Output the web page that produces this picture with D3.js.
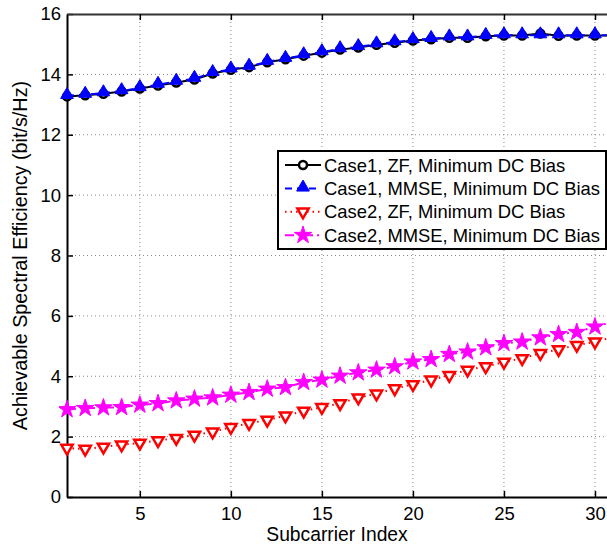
<!DOCTYPE html>
<html>
<head>
<meta charset="utf-8">
<script src="https://cdn.jsdelivr.net/npm/d3@7"></script>
<style>
  body { margin: 0; background: #fff; }
  svg text { font-family: "Liberation Sans", Arial, Helvetica, sans-serif; }
</style>
</head>
<body>
<div id="chart"></div>
<script>
// Subcarrier index (31 is past the cropped right edge, only the line enters)
const subcarriers = d3.range(1, 32)
const case1ZF = [13.27, 13.31, 13.36, 13.43, 13.53, 13.63, 13.73, 13.83, 14.03, 14.15,
    14.24, 14.40, 14.50, 14.62, 14.72, 14.82, 14.89, 14.98, 15.05, 15.12,
    15.16, 15.21, 15.21, 15.26, 15.29, 15.29, 15.35, 15.28, 15.29, 15.29, 15.29]
const case1MMSE = [13.29, 13.33, 13.38, 13.45, 13.55, 13.66, 13.76, 13.86, 14.05, 14.17,
    14.26, 14.42, 14.52, 14.64, 14.74, 14.84, 14.91, 15.00, 15.07, 15.14,
    15.18, 15.23, 15.23, 15.28, 15.30, 15.30, 15.30, 15.30, 15.30, 15.30, 15.30]
const case2ZF = [1.62, 1.59, 1.66, 1.73, 1.79, 1.87, 1.95, 2.05, 2.16, 2.31,
    2.44, 2.55, 2.69, 2.85, 2.97, 3.10, 3.29, 3.42, 3.59, 3.73,
    3.88, 4.03, 4.21, 4.32, 4.47, 4.59, 4.76, 4.89, 5.03, 5.14, 5.30]
const case2MMSE = [2.90, 2.94, 2.96, 2.97, 3.05, 3.10, 3.19, 3.25, 3.29, 3.38,
    3.47, 3.58, 3.63, 3.80, 3.88, 4.01, 4.12, 4.21, 4.32, 4.48,
    4.56, 4.73, 4.81, 4.95, 5.09, 5.14, 5.28, 5.39, 5.46, 5.64, 5.80]
const xTicks = [5, 10, 15, 20, 25, 30]
const yTicks = [0, 2, 4, 6, 8, 10, 12, 14, 16]
const legendLabels = ["Case1, ZF, Minimum DC Bias", "Case1, MMSE, Minimum DC Bias",
    "Case2, ZF, Minimum DC Bias", "Case2, MMSE, Minimum DC Bias"]

const width = 607, height = 546
var margin = { top: 14, right: 0, bottom: 49, left: 67 }
const graphWidth = width - margin.left - margin.right
const graphHeight = height - margin.top - margin.bottom

var x = d3.scaleLinear().domain([1, 30.66]).range([0, graphWidth])
var y = d3.scaleLinear().domain([0, 16]).range([graphHeight, 0])

const svg = d3.select("#chart").append("svg")
    .attr("width", width)
    .attr("height", height)
const g = svg.append("g")
    .attr("transform", "translate(" + margin.left + "," + margin.top + ")")

g.append("defs").append("clipPath").attr("id", "clip")
    .append("rect").attr("x", -8).attr("y", -8)
    .attr("width", graphWidth + 8).attr("height", graphHeight + 16)

// Grid
g.append("g").selectAll("line").data(xTicks).join("line")
    .attr("x1", d => x(d)).attr("x2", d => x(d))
    .attr("y1", 0).attr("y2", graphHeight)
    .attr("stroke", "#888").attr("stroke-width", 1).attr("stroke-dasharray", "1,3")
g.append("g").selectAll("line").data(yTicks.filter(d => d > 0 && d < 16)).join("line")
    .attr("x1", 0).attr("x2", graphWidth)
    .attr("y1", d => y(d)).attr("y2", d => y(d))
    .attr("stroke", "#888").attr("stroke-width", 1).attr("stroke-dasharray", "1,3")

// Axes (ticks point inwards)
const xAxis = d3.axisBottom(x).tickValues(xTicks).tickSizeInner(-6).tickSizeOuter(0).tickPadding(10)
const yAxis = d3.axisLeft(y).tickValues(yTicks).tickSizeInner(-6).tickSizeOuter(0).tickPadding(6)
const xTop = d3.axisTop(x).tickValues(xTicks).tickSizeInner(-6).tickSizeOuter(0).tickFormat("")

const gx = g.append("g").attr("transform", "translate(0," + graphHeight + ")").call(xAxis)
const gy = g.append("g").call(yAxis)
const gt = g.append("g").call(xTop)
for (const a of [gx, gy, gt]) {
    a.select(".domain").attr("stroke", "#000").attr("stroke-width", 2)
    a.selectAll(".tick line").attr("stroke", "#000").attr("stroke-width", 1.5)
    a.selectAll("text").attr("font-size", 18.5).attr("fill", "#000")
        .attr("font-family", "'Liberation Sans', Arial, sans-serif")
}
gt.select(".domain").attr("stroke", "#333")

// Series
const series = [
    { values: case1ZF, color: "#000", dash: null, sym: "circle" },
    { values: case1MMSE, color: "#0000ff", dash: "7,5", sym: "up" },
    { values: case2ZF, color: "#ff0000", dash: "1.5,4", sym: "down" },
    { values: case2MMSE, color: "#ff00ff", dash: "9,4,2,4", sym: "star" },
]
const line = d3.line().x((d, i) => x(subcarriers[i])).y(d => y(d))

function drawMarker(sel, s) {
    if (s.sym === "circle") {
        sel.append("circle").attr("r", 4).attr("fill", "#fff")
            .attr("stroke", s.color).attr("stroke-width", 2.5)
    } else if (s.sym === "up") {
        sel.append("path").attr("d", d3.symbol(d3.symbolTriangle, 70)())
            .attr("transform", "translate(0,-1)")
            .attr("fill", s.color).attr("stroke", s.color).attr("stroke-width", 1)
    } else if (s.sym === "down") {
        sel.append("path").attr("d", d3.symbol(d3.symbolTriangle, 55)())
            .attr("transform", "rotate(180)")
            .attr("fill", "#fff").attr("stroke", s.color).attr("stroke-width", 2.5)
    } else {
        sel.append("path").attr("d", d3.symbol(d3.symbolStar, 95)())
            .attr("fill", s.color).attr("stroke", s.color).attr("stroke-width", 1)
    }
}

const plot = g.append("g").attr("clip-path", "url(#clip)")
for (const s of series) {
    plot.append("path").datum(s.values)
        .attr("fill", "none").attr("stroke", s.color).attr("stroke-width", 2)
        .attr("stroke-dasharray", s.dash).attr("d", line)
    plot.append("g").selectAll("g").data(s.values.slice(0, 30)).join("g")
        .attr("transform", (d, i) => "translate(" + x(subcarriers[i]) + "," + y(d) + ")")
        .each(function () { drawMarker(d3.select(this), s) })
}

// Axis titles
svg.append("text").attr("x", margin.left + graphWidth / 2).attr("y", 541)
    .attr("text-anchor", "middle").attr("font-size", 19.3).text("Subcarrier Index")
svg.append("text").attr("transform", "translate(27," + (margin.top + graphHeight / 2) + ") rotate(-90)")
    .attr("text-anchor", "middle").attr("font-size", 19.8)
    .text("Achievable Spectral Efficiency (bit/s/Hz)")

// Legend
const legend = svg.append("g").attr("transform", "translate(278,151)")
legend.append("rect").attr("width", 328).attr("height", 98)
    .attr("fill", "#fff").attr("stroke", "#000").attr("stroke-width", 2)
legendLabels.forEach((label, i) => {
    const s = series[i]
    const row = legend.append("g").attr("transform", "translate(0," + (14 + i * 23.4) + ")")
    row.append("line").attr("x1", 7).attr("x2", 43).attr("y1", 0).attr("y2", 0)
        .attr("stroke", s.color).attr("stroke-width", 2).attr("stroke-dasharray", s.dash)
    drawMarker(row.append("g").attr("transform", "translate(25,0)"), s)
    row.append("text").attr("x", 46).attr("y", 6.6).attr("font-size", 18.4).text(label)
})
</script>
</body>
</html>
